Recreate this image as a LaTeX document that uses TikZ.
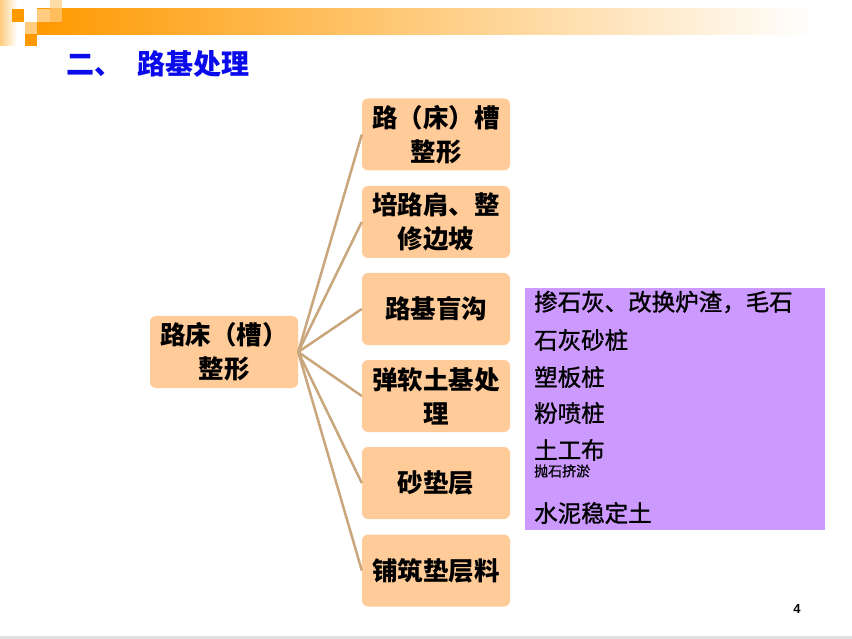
\documentclass[tikz,border=0pt]{standalone}
\usepackage{fontspec}
\newfontfamily\cjk{Noto Sans CJK SC}
\newfontfamily\cjkmid[FakeBold=1.2]{Noto Sans CJK SC}
\setsansfont{Liberation Sans}
\definecolor{boxorange}{RGB}{255,204,153}
\definecolor{spokebrown}{RGB}{201,166,124}
\definecolor{methodpurple}{RGB}{204,153,255}
\definecolor{titleblue}{RGB}{10,10,235}
\definecolor{barorange}{RGB}{255,153,0}
\definecolor{barlight}{RGB}{255,204,128}
\tikzset{
	part/.style={fill=boxorange, rounded corners=6pt, minimum width=148pt, minimum height=72pt, inner sep=0pt, align=center, font=\cjk\bfseries\fontsize{25.5}{34}\selectfont},
	spoke/.style={draw=spokebrown, line width=2.5pt},
	method/.style={anchor=west, inner sep=0pt, font=\cjkmid\fontsize{23.5}{28}\selectfont},
}
\begin{document}
\begin{tikzpicture}[x=1pt,y=-1pt]
	\useasboundingbox [fill=white] (0,0) rectangle (852,639);
	% header
	\shade [left color=barlight, right color=white] (0,0) rectangle (17,46);
	\shade [left color=barorange, right color=white] (37,9) rectangle (815,35);
	\fill [barorange] (12,9) rectangle (24,22);
	\fill [barlight] (37,9) rectangle (50,22);
	\fill [barlight, opacity=0.7] (50,0) rectangle (62,22);
	\fill [barlight] (25,22) rectangle (37,34);
	\fill [barorange] (25,34) rectangle (37,46);
	\fill [black!12] (0,636) rectangle (852,639);
	\node (title) [anchor=west, inner sep=0pt, text=titleblue, font=\cjk\bfseries\fontsize{28}{32}\selectfont] at (66,64) {二、\hspace{15pt}路基处理};
	\node (page) [inner sep=0pt, font=\sffamily\bfseries\fontsize{13}{15}\selectfont] at (797,609.5) {4};
	% tree
	\node (root) [part] at (224,352) {路床（槽）\\整形};
	\node (shape) [part] at (436,134.5) {路（床）槽\\整形};
	\node (slope) [part] at (436,222) {培路肩、整\\修边坡};
	\node (drain) [part] at (436,309) {路基盲沟};
	\node (soft) [part] at (436,396) {弹软土基处\\理};
	\node (sand) [part] at (436,483) {砂垫层};
	\node (layer) [part] at (436,570.5) {铺筑垫层料};
	\draw [spoke] (root.east) -- (shape.west);
	\draw [spoke] (root.east) -- (slope.west);
	\draw [spoke] (root.east) -- (drain.west);
	\draw [spoke] (root.east) -- (soft.west);
	\draw [spoke] (root.east) -- (sand.west);
	\draw [spoke] (root.east) -- (layer.west);
	% methods
	\node (methods) [fill=methodpurple, anchor=north west, minimum width=300pt, minimum height=242pt, inner sep=0pt] at (525,288) {};
	\node (lime) [method] at (534,302) {掺石灰、改换炉渣，毛石};
	\node (pile) [method] at (534,340) {石灰砂桩};
	\node (board) [method] at (534,377) {塑板桩};
	\node (spray) [method] at (534,413) {粉喷桩};
	\node (cloth) [method] at (534,450) {土工布};
	\node (stone) [method, font=\cjkmid\fontsize{14}{16}\selectfont] at (534,471) {抛石挤淤};
	\node (cement) [method] at (534,513) {水泥稳定土};
\end{tikzpicture}
\end{document}
